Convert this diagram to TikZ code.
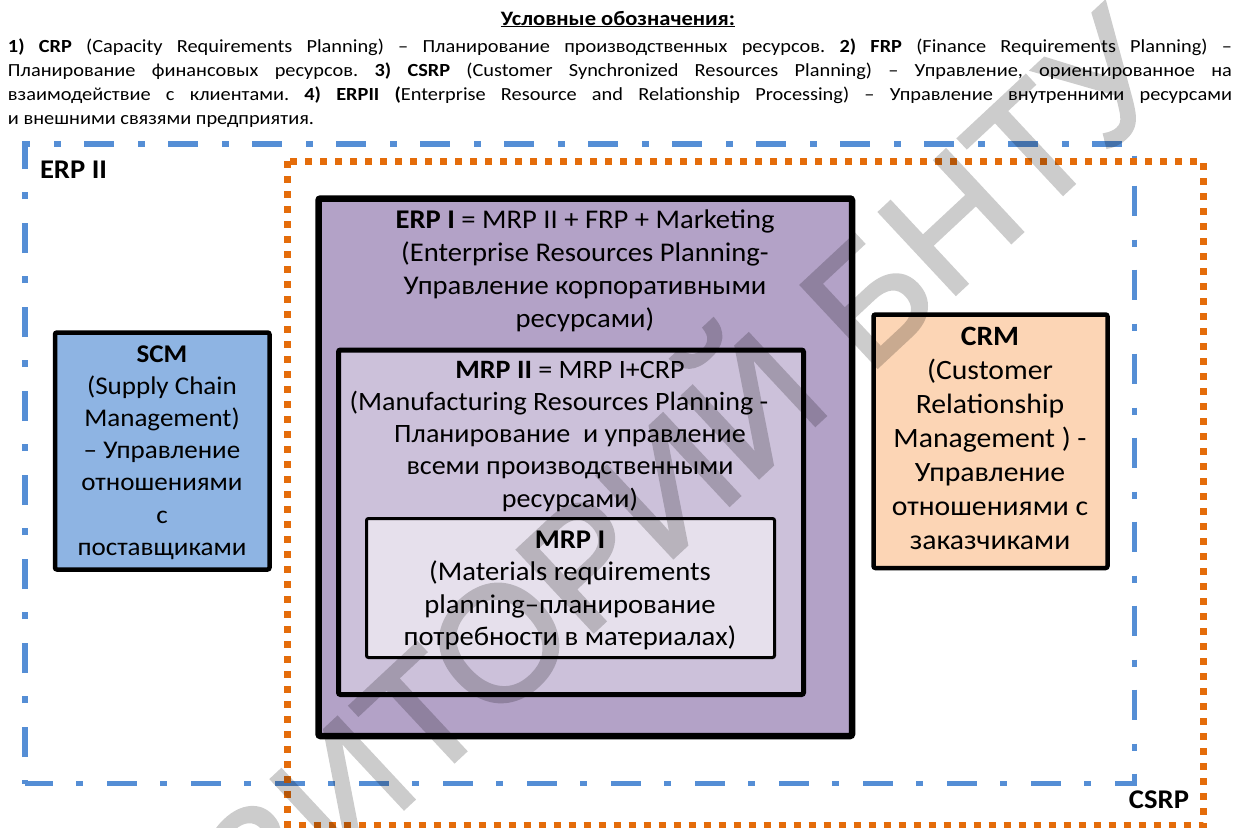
\documentclass[tikz,border=0pt]{standalone}
\usepackage{fontspec}
\setmainfont[FakeStretch=1.06]{Carlito}
\newfontfamily\hdrfont[FakeStretch=1.1]{Carlito}
\newfontfamily\wmfont[FakeBold=1.8]{Liberation Sans}
\definecolor{erpblue}{RGB}{85,142,213}
\definecolor{csrporange}{RGB}{228,108,10}
\definecolor{erponefill}{RGB}{179,162,199}
\definecolor{mrptwofill}{RGB}{204,193,218}
\definecolor{mrponefill}{RGB}{230,224,236}
\definecolor{scmfill}{RGB}{142,180,227}
\definecolor{crmfill}{RGB}{252,213,181}
% centred block of lines; the node's baseline is the first line's baseline
\newcommand\blocktext[4]{\parbox[t]{#3}{\fontsize{#1}{#2}\selectfont\centering #4}}
\frenchspacing
\begin{document}
\begin{tikzpicture}[x=1pt,y=-1pt,
  txt/.style={inner sep=0pt,outer sep=0pt,text=black},
  hdr/.style={txt,anchor=base west,font=\hdrfont\fontsize{18.5}{24}\selectfont},
  sysbox/.style={draw=black,rounded corners=2pt},
  erptwoline/.style={draw=erpblue,line width=5.5pt,dash pattern=on 30pt off 24pt on 7pt off 23pt,dash phase=57.5pt},
  csrpline/.style={draw=csrporange,line width=7pt,dash pattern=on 7pt off 8pt},
  lbl/.style={txt,font=\fontsize{27}{30}\selectfont\bfseries},
  wm/.style={inner sep=0pt,text=black,font=\wmfont\fontsize{163}{163}\selectfont}]
\path[use as bounding box] (0,0) rectangle (1236,827);

% legend
\node[txt,anchor=base] (title) at (618,25)
  {\hdrfont\fontsize{20.5}{22}\selectfont\bfseries\underline{Условные обозначения:}};
\node[hdr] (leg1) at (8,52) {\makebox[1224pt][s]{\textbf{1) CRP} (Capacity Requirements Planning) – Планирование производственных ресурсов. \textbf{2) FRP} (Finance Requirements Planning) –}};
\node[hdr] (leg2) at (8,76) {\makebox[1224pt][s]{Планирование финансовых ресурсов. \textbf{3) CSRP} (Customer Synchronized Resources Planning) – Управление, ориентированное на}};
\node[hdr] (leg3) at (8,100) {\makebox[1224pt][s]{взаимодействие с клиентами. \textbf{4) ERPII (}Enterprise Resource and Relationship Processing) – Управление внутренними ресурсами}};
\node[hdr] (leg4) at (8,124) {и внешними связями предприятия.};

% ERP II and CSRP frames
\draw[erptwoline] (25,783.5) -- (25,144) -- (1134.5,144) -- (1134.5,783.5) -- cycle;
\draw[csrpline] (287.5,161) rectangle (1203,825);
\node[lbl,anchor=base west] (erptwo) at (40,178) {ERP II};
\node[lbl,anchor=base east] (csrp) at (1189,808) {CSRP};

% nested planning systems
\draw[sysbox,fill=erponefill,line width=6.5pt] (318.5,198.5) rectangle (852,736);
\draw[sysbox,fill=mrptwofill,line width=5pt] (338.5,350) rectangle (803.5,694.5);
\draw[sysbox,fill=mrponefill,line width=3pt] (366.5,518.5) rectangle (774.5,657.5);
\draw[sysbox,fill=scmfill,line width=4.5pt] (55,332.5) rectangle (269.5,569.5);
\draw[sysbox,fill=crmfill,line width=4.5pt] (873.5,314.5) rectangle (1107.5,568);

\node[txt,anchor=base] (erpone) at (585,228) {\blocktext{27}{33}{520pt}{%
  \textbf{ERP I} = MRP II + FRP + Marketing\\
  (Enterprise Resources Planning-\\
  Управление корпоративными\\
  ресурсами)}};
\node[txt,anchor=base] (mrptwo) at (570,378) {\blocktext{26.5}{32.3}{460pt}{%
  \textbf{MRP II} = MRP I+CRP\\
  (Manufacturing Resources Planning -\hspace*{22pt}\mbox{}\\
  Планирование\ \ и управление\\
  всеми производственными\\
  ресурсами)}};
\node[txt,anchor=base] (mrpone) at (570,548) {\blocktext{27}{32.5}{400pt}{%
  \textbf{MRP I}\\
  (Materials requirements\\
  planning–планирование\\
  потребности в материалах)}};
\node[txt,anchor=base] (scm) at (162,362) {\blocktext{25.5}{32.2}{210pt}{%
  \textbf{SCM}\\
  (Supply Chain\\
  Management)\\
  – Управление\\
  отношениями\\
  с\\
  поставщиками}};
\node[txt,anchor=base] (crm) at (990,345) {\blocktext{28}{34}{230pt}{%
  \textbf{CRM}\\
  (Customer\\
  Relationship\\
  Management ) -\\
  Управление\\
  отношениями с\\
  заказчиками}};

% repository stamp, composited as one translucent layer
\begin{scope}[transparency group,opacity=0.2]
  \node[wm,rotate=43] (stamp) at (505,615) {РЕПОЗИТОРИЙ БНТУ};
\end{scope}
\end{tikzpicture}
\end{document}
